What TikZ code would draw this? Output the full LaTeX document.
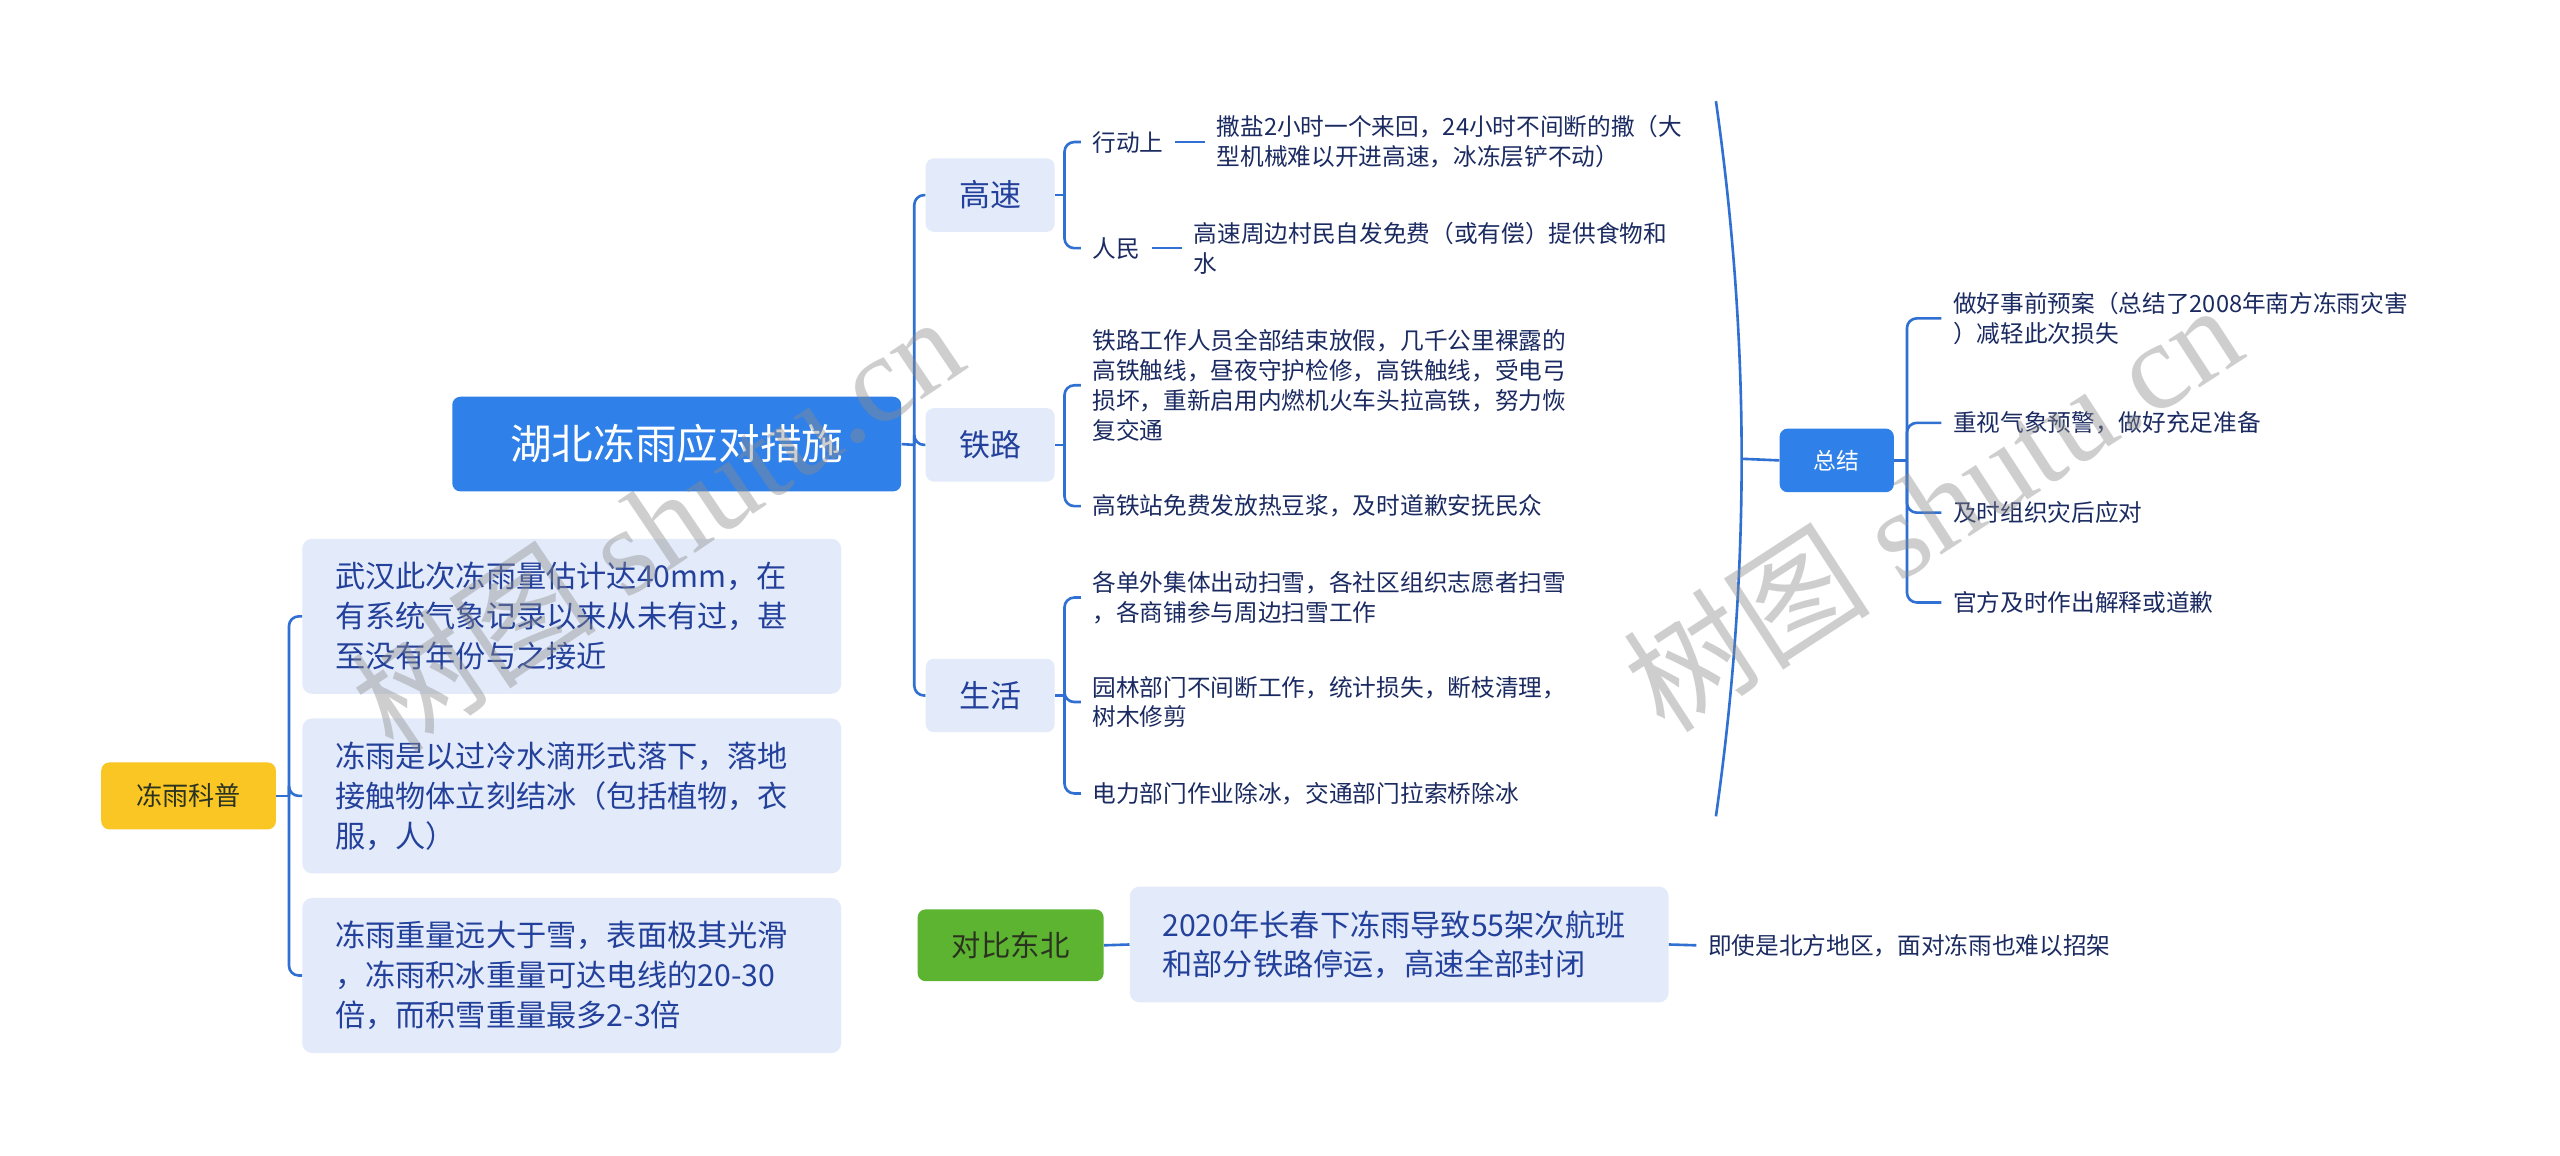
\documentclass[tikz,border=0pt]{standalone}
\usepackage{fontspec}
\newfontfamily\cjk{Noto Sans CJK SC}
\newfontfamily\wmfont{Liberation Serif}
\definecolor{mainblue}{HTML}{2F80E8}
\definecolor{linec}{HTML}{2F70D2}
\definecolor{lightb}{HTML}{E3EBFB}
\definecolor{navy}{HTML}{1B2B62}
\definecolor{midnavy}{HTML}{23409A}
\definecolor{yel}{HTML}{F9C624}
\definecolor{grn}{HTML}{5DB431}
\definecolor{grntext}{HTML}{2A3320}
\begin{document}
\begin{tikzpicture}[x=1pt,y=-1pt,
 conn/.style={draw=linec,line width=1.6pt,rounded corners=6pt},
 rootbox/.style={fill=mainblue,rounded corners=5pt,text=white,font=\cjk\fontsize{25.5}{30}\selectfont,minimum width=275pt,minimum height=58pt,inner sep=0pt},
 sumbox/.style={fill=mainblue,rounded corners=5pt,text=white,font=\cjk\fontsize{14}{17}\selectfont,minimum width=70pt,minimum height=39pt,inner sep=0pt},
 onebox/.style={fill=lightb,rounded corners=5pt,text=midnavy,font=\cjk\fontsize{19}{22}\selectfont,minimum width=79pt,minimum height=45pt,inner sep=0pt},
 leaf/.style={anchor=west,text=navy,font=\cjk\fontsize{14.5}{18.3}\selectfont,align=left,inner xsep=7pt,inner ysep=2pt},
 bigbox/.style={fill=lightb,rounded corners=6pt,text=midnavy,font=\cjk\fontsize{18.5}{24.5}\selectfont,align=left,text width=290pt,inner xsep=20pt,minimum height=95pt,anchor=west},
 wm/.style={text=black!45,text opacity=0.42,font=\wmfont\fontsize{76}{80}\selectfont,inner sep=0pt}
]
\useasboundingbox (0,0) rectangle (1568,708);
\fill[white] (0,0) rectangle (1568,708);

% central
\node[rootbox] (root) at (414.5,272) {湖北冻雨应对措施};
\node[onebox] (gs) at (606.5,119.5) {高速};
\node[onebox] (tl) at (606.5,272.5) {铁路};
\node[onebox] (sh) at (606.5,426) {生活};
\coordinate (rootj) at (560,272.5);
\draw[conn] (root.east) -- (rootj);
\draw[conn] (rootj) |- (gs.west);
\draw[conn] (rootj) |- (tl.west);
\draw[conn] (rootj) |- (sh.west);

% gaosu
\node[leaf] (xd) at (662,87) {行动上};
\node[leaf] (xdt) at (738,87) {撒盐2小时一个来回，24小时不间断的撒（大\\型机械难以开进高速，冰冻层铲不动）};
\node[leaf] (rm) at (662,152) {人民};
\node[leaf] (rmt) at (724,152) {高速周边村民自发免费（或有偿）提供食物和\\水};
\coordinate (gsj) at (652,119.5);
\draw[conn] (gs.east) -- (gsj);
\draw[conn] (gsj) |- (xd.west);
\draw[conn] (gsj) |- (rm.west);
\draw[conn] (xd.east) -- (xdt.west);
\draw[conn] (rm.east) -- (rmt.west);

% tielu
\node[leaf] (tl1) at (662,236) {铁路工作人员全部结束放假，几千公里裸露的\\高铁触线，昼夜守护检修，高铁触线，受电弓\\损坏，重新启用内燃机火车头拉高铁，努力恢\\复交通};
\node[leaf] (tl2) at (662,310) {高铁站免费发放热豆浆，及时道歉安抚民众};
\coordinate (tlj) at (652,272.5);
\draw[conn] (tl.east) -- (tlj);
\draw[conn] (tlj) |- (tl1.west);
\draw[conn] (tlj) |- (tl2.west);

% shenghuo
\node[leaf] (sh1) at (662,366) {各单外集体出动扫雪，各社区组织志愿者扫雪\\，各商铺参与周边扫雪工作};
\node[leaf] (sh2) at (662,430) {园林部门不间断工作，统计损失，断枝清理，\\树木修剪};
\node[leaf] (sh3) at (662,486) {电力部门作业除冰，交通部门拉索桥除冰};
\coordinate (shj) at (652,426);
\draw[conn] (sh.east) -- (shj);
\draw[conn] (shj) |- (sh1.west);
\draw[conn] (shj) |- (sh2.west);
\draw[conn] (shj) |- (sh3.west);

% summary
\coordinate (sumtop) at (1051,62);
\coordinate (sumbot) at (1051,500);
\coordinate (sumtip) at (1066.7,281);
\draw[conn] (sumtop) .. controls (1072,210) and (1072,352) .. (sumbot);
\node[sumbox] (zj) at (1125,282) {总结};
\draw[conn] (sumtip) -- (zj.west);
\node[leaf] (z1) at (1189,195) {做好事前预案（总结了2008年南方冻雨灾害\\）减轻此次损失};
\node[leaf] (z2) at (1189,259) {重视气象预警，做好充足准备};
\node[leaf] (z3) at (1189,314) {及时组织灾后应对};
\node[leaf] (z4) at (1189,369) {官方及时作出解释或道歉};
\coordinate (zjj) at (1168,282);
\draw[conn] (zj.east) -- (zjj);
\draw[conn] (zjj) |- (z1.west);
\draw[conn] (zjj) |- (z2.west);
\draw[conn] (zjj) |- (z3.west);
\draw[conn] (zjj) |- (z4.west);

% kepu
\node[fill=yel,rounded corners=5pt,text=grntext,font=\cjk\fontsize{16}{19}\selectfont,minimum width=107pt,minimum height=41pt,inner sep=0pt] (kp) at (115.5,487.5) {冻雨科普};
\node[bigbox] (k1) at (185,377.5) {武汉此次冻雨量估计达40mm，在\\有系统气象记录以来从未有过，甚\\至没有年份与之接近};
\node[bigbox] (k2) at (185,487.5) {冻雨是以过冷水滴形式落下，落地\\接触物体立刻结冰（包括植物，衣\\服，人）};
\node[bigbox] (k3) at (185,597.5) {冻雨重量远大于雪，表面极其光滑\\，冻雨积冰重量可达电线的20-30\\倍，而积雪重量最多2-3倍};
\coordinate (kpj) at (177,487.5);
\draw[conn] (kp.east) -- (kpj);
\draw[conn] (kpj) |- (k1.west);
\draw[conn] (kpj) |- (k2.west);
\draw[conn] (kpj) |- (k3.west);

% dongbei
\node[fill=grn,rounded corners=5pt,text=grntext,font=\cjk\fontsize{18}{21}\selectfont,minimum width=114pt,minimum height=44pt,inner sep=0pt] (db) at (619,579) {对比东北};
\node[fill=lightb,rounded corners=6pt,text=midnavy,font=\cjk\fontsize{18.5}{24}\selectfont,align=left,text width=290pt,inner xsep=20pt,minimum height=71pt] (db1) at (857,578.5) {2020年长春下冻雨导致55架次航班\\和部分铁路停运，高速全部封闭};
\node[leaf] (db2) at (1039,579) {即使是北方地区，面对冻雨也难以招架};
\draw[conn] (db.east) -- (db1.west);
\draw[conn] (db1.east) -- (db2.west);

% watermarks
\node[wm,rotate=34] (wm1) at (402,320) {{\cjk 树图} shutu.cn};
\node[wm,rotate=33] (wm2) at (1183,310) {{\cjk 树图} shutu.cn};
\end{tikzpicture}
\end{document}
